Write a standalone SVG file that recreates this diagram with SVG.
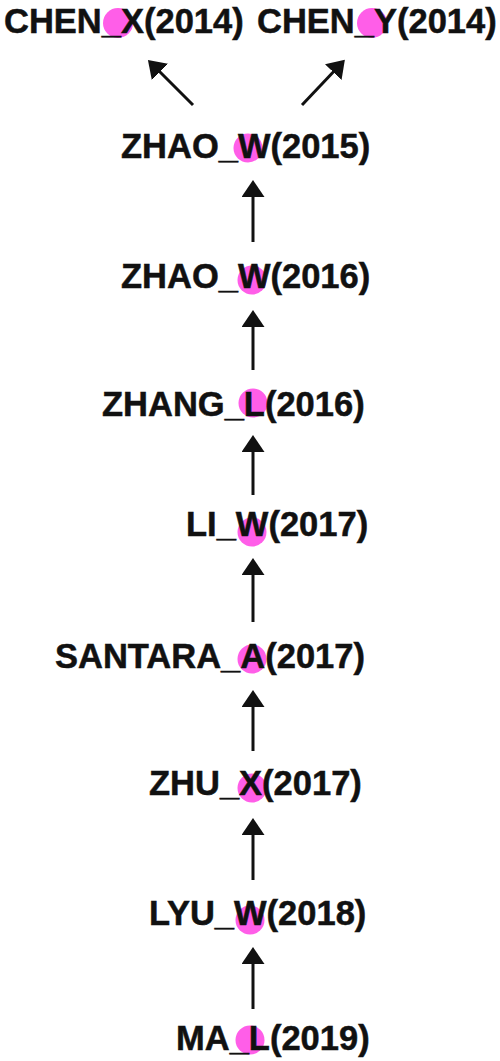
<svg xmlns="http://www.w3.org/2000/svg" width="500" height="1061" viewBox="0 0 500 1061">
  <style>
    .lbl { font-family: "Liberation Sans", Arial, sans-serif; font-weight: bold; font-size: 34.5px; fill: #111111; stroke: #111111; stroke-width: 0.5px; }
    .dot { fill: #ff5ee8; }
    .edge { stroke: #111111; stroke-width: 3; fill: none; marker-end: url(#arrow); }
  </style>
  <defs>
    <marker id="arrow" viewBox="0 0 17 23" refX="7" refY="11.5" markerWidth="17" markerHeight="23" markerUnits="userSpaceOnUse" orient="auto">
      <polygon points="0,0 17,11.5 0,23" fill="#111111"/>
    </marker>
  </defs>
  <rect width="500" height="1061" fill="#ffffff"/>

  <g id="connectors">
    <path class="edge" d="M193,105 L155,67"/>
    <path class="edge" d="M302,105 L338,67"/>
    <path class="edge" d="M253,242 L253,190"/>
    <path class="edge" d="M253,370 L253,320"/>
    <path class="edge" d="M253,495 L253,445"/>
    <path class="edge" d="M253,622 L253,568"/>
    <path class="edge" d="M253,751 L253,700"/>
    <path class="edge" d="M253,880 L253,828"/>
    <path class="edge" d="M253,1009 L253,957"/>
  </g>

  <g id="chen_x">
    <circle class="dot" cx="118" cy="23" r="15"/>
    <text class="lbl" x="4" y="33">CHEN_X(2014)</text>
  </g>
  <g id="chen_y">
    <circle class="dot" cx="372" cy="23" r="15"/>
    <text class="lbl" x="257" y="33">CHEN_Y(2014)</text>
  </g>
  <g id="zhao_w_2015">
    <circle class="dot" cx="248" cy="148" r="14.5"/>
    <text class="lbl" x="121" y="158">ZHAO_W(2015)</text>
  </g>
  <g id="zhao_w_2016">
    <circle class="dot" cx="252" cy="280" r="14.5"/>
    <text class="lbl" x="121" y="288">ZHAO_W(2016)</text>
  </g>
  <g id="zhang_l_2016">
    <circle class="dot" cx="253" cy="403" r="14.5"/>
    <text class="lbl" x="102" y="416">ZHANG_L(2016)</text>
  </g>
  <g id="li_w_2017">
    <circle class="dot" cx="252" cy="532" r="14.5"/>
    <text class="lbl" x="186" y="536">LI_W(2017)</text>
  </g>
  <g id="santara_a_2017">
    <circle class="dot" cx="252" cy="659" r="14.5"/>
    <text class="lbl" x="55" y="668">SANTARA_A(2017)</text>
  </g>
  <g id="zhu_x_2017">
    <circle class="dot" cx="252" cy="788" r="14.5"/>
    <text class="lbl" x="149" y="795">ZHU_X(2017)</text>
  </g>
  <g id="lyu_w_2018">
    <circle class="dot" cx="250" cy="920" r="14.5"/>
    <text class="lbl" x="149" y="925">LYU_W(2018)</text>
  </g>
  <g id="ma_l_2019">
    <circle class="dot" cx="250" cy="1040" r="14.5"/>
    <text class="lbl" x="176" y="1050">MA_L(2019)</text>
  </g>
</svg>
